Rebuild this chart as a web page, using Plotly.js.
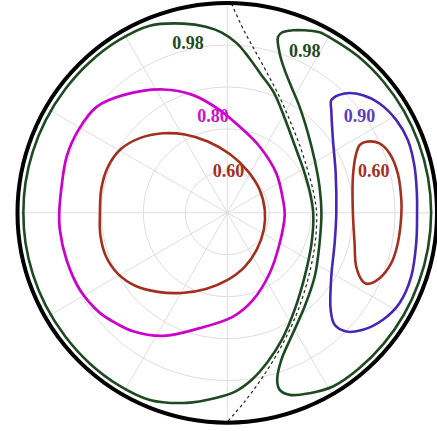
<!DOCTYPE html>
<html>
<head>
<meta charset="utf-8">
<script src="https://cdn.plot.ly/plotly-3.0.1.min.js"></script>
<style>html,body{margin:0;padding:0;background:#fff;}#plot{width:437px;height:431px;}</style>
</head>
<body>
<div id="plot"></div>
<script>
// Contour data in unit-disk cartesian coordinates (x, y), boundary at r = 1
const greenLeftX = [-0.026,0.045,0.102,0.160,0.221,0.274,0.321,0.364,0.395,0.410,0.402,0.369,0.321,0.260,0.193,0.117,0.040,-0.060,-0.193,-0.369,-0.515,-0.657,-0.772,-0.866,-0.927,-0.962,-0.972,-0.962,-0.927,-0.866,-0.772,-0.657,-0.515,-0.369,-0.208,-0.102,-0.026];
const greenLeftY = [0.859,0.809,0.742,0.661,0.575,0.451,0.323,0.204,0.094,-0.001,-0.144,-0.304,-0.463,-0.606,-0.710,-0.796,-0.851,-0.884,-0.906,-0.892,-0.824,-0.717,-0.590,-0.441,-0.292,-0.142,0.000,0.142,0.292,0.441,0.590,0.717,0.824,0.892,0.902,0.887,0.859];

const greenRightX = [0.242,0.250,0.274,0.306,0.345,0.385,0.417,0.440,0.449,0.440,0.417,0.369,0.306,0.258,0.238,0.250,0.298,0.393,0.504,0.625,0.745,0.842,0.913,0.957,0.972,0.957,0.913,0.842,0.745,0.625,0.502,0.440,0.369,0.312,0.264,0.242];
const greenRightY = [0.839,0.760,0.680,0.600,0.505,0.379,0.251,0.124,0.000,-0.145,-0.304,-0.447,-0.590,-0.701,-0.796,-0.844,-0.868,-0.860,-0.828,-0.745,-0.625,-0.486,-0.332,-0.169,0.000,0.169,0.332,0.486,0.625,0.745,0.828,0.861,0.870,0.870,0.861,0.839];

const magentaX = [-0.801,-0.790,-0.766,-0.710,-0.623,-0.496,-0.306,-0.163,-0.036,0.060,0.155,0.234,0.266,0.274,0.250,0.202,0.123,0.028,-0.131,-0.306,-0.449,-0.533,-0.607,-0.702,-0.766,-0.798,-0.801];
const magentaY = [-0.001,0.124,0.267,0.394,0.505,0.561,0.588,0.561,0.490,0.410,0.315,0.188,0.061,-0.010,-0.145,-0.288,-0.415,-0.495,-0.550,-0.587,-0.565,-0.525,-0.477,-0.368,-0.225,-0.082,-0.001];

const redLeftX = [-0.607,-0.600,-0.567,-0.507,-0.417,-0.307,-0.202,-0.093,0.012,0.098,0.155,0.179,0.174,0.140,0.083,0.002,-0.102,-0.217,-0.331,-0.436,-0.521,-0.579,-0.605,-0.607];
const redLeftY = [-0.001,0.118,0.223,0.304,0.356,0.379,0.373,0.340,0.280,0.199,0.109,0.013,-0.082,-0.177,-0.258,-0.320,-0.363,-0.382,-0.377,-0.349,-0.291,-0.206,-0.106,-0.001];

const blueX = [0.496,0.560,0.647,0.726,0.806,0.861,0.893,0.904,0.905,0.901,0.877,0.821,0.742,0.647,0.568,0.512,0.493,0.496,0.512,0.520,0.517,0.504,0.496,0.496];
const blueY = [0.537,0.569,0.561,0.521,0.442,0.347,0.220,0.093,0.000,-0.145,-0.304,-0.431,-0.510,-0.558,-0.566,-0.534,-0.463,-0.304,-0.145,0.000,0.188,0.347,0.490,0.537];

const redRightX = [0.663,0.726,0.774,0.813,0.830,0.830,0.813,0.782,0.726,0.670,0.647,0.615,0.607,0.599,0.599,0.615,0.631,0.663];
const redRightY = [0.339,0.331,0.283,0.188,0.061,-0.010,-0.145,-0.240,-0.312,-0.339,-0.328,-0.257,-0.145,0.000,0.172,0.283,0.323,0.339];

const dashX = [0.020,0.079,0.136,0.193,0.250,0.298,0.345,0.383,0.412,0.426,0.419,0.388,0.338,0.267,0.171,0.083,-0.001];
const dashY = [0.998,0.870,0.766,0.661,0.551,0.442,0.323,0.204,0.094,-0.001,-0.144,-0.304,-0.463,-0.620,-0.780,-0.900,-0.998];

const labelText = ["0.98","0.98","0.80","0.60","0.90","0.60"];
const labelX = [-0.187,0.369,-0.068,0.006,0.630,0.698];
const labelY = [0.804,0.763,0.453,0.190,0.456,0.190];
const labelColor = ["#1e4a22","#1e4a22","#cc11cc","#a3301f","#5a3cc0","#a3301f"];

function toPolar(xs, ys) {
  const r = [], t = [];
  for (let i = 0; i < xs.length; i++) {
    r.push(Math.sqrt(xs[i]*xs[i] + ys[i]*ys[i]));
    t.push(Math.atan2(ys[i], xs[i]) * 180 / Math.PI);
  }
  return {r: r, theta: t};
}

function contour(xs, ys, color, width, dash) {
  const p = toPolar(xs, ys);
  return {
    type: 'scatterpolar', mode: 'lines', r: p.r, theta: p.theta,
    line: {color: color, width: width, shape: 'spline', smoothing: 1, dash: dash || 'solid'},
    hoverinfo: 'skip', showlegend: false, cliponaxis: false
  };
}

const lp = toPolar(labelX, labelY);
const traces = [
  contour(dashX, dashY, '#222222', 1.2, '3px,3px'),
  contour(greenLeftX, greenLeftY, '#1e4a22', 2.6),
  contour(greenRightX, greenRightY, '#1e4a22', 2.6),
  contour(magentaX, magentaY, '#cc00cc', 2.7),
  contour(redLeftX, redLeftY, '#a3301f', 2.6),
  contour(blueX, blueY, '#4626b4', 2.6),
  contour(redRightX, redRightY, '#a3301f', 2.6),
  {
    type: 'scatterpolar', mode: 'text', r: lp.r, theta: lp.theta, text: labelText,
    textposition: 'middle center',
    textfont: {family: 'Liberation Serif, Times New Roman, serif', size: 18, weight: 'bold', color: labelColor},
    hoverinfo: 'skip', showlegend: false, cliponaxis: false
  }
];

const layout = {
  width: 437, height: 431,
  margin: {l: 0, r: 0, t: 0, b: 0, pad: 0},
  paper_bgcolor: '#ffffff',
  showlegend: false,
  polar: {
    domain: {x: [0.04005, 1], y: [0.019, 0.9935]},
    bgcolor: '#ffffff',
    radialaxis: {range: [0, 1], dtick: 0.2, tick0: 0, showticklabels: false, ticks: '',
                 showline: false, gridcolor: '#dedede', gridwidth: 1},
    angularaxis: {dtick: 30, showticklabels: false, ticks: '', gridcolor: '#dedede', gridwidth: 1,
                  showline: true, linecolor: '#000000', linewidth: 4}
  }
};

Plotly.newPlot('plot', traces, layout, {staticPlot: true, displayModeBar: false});
</script>
</body>
</html>
